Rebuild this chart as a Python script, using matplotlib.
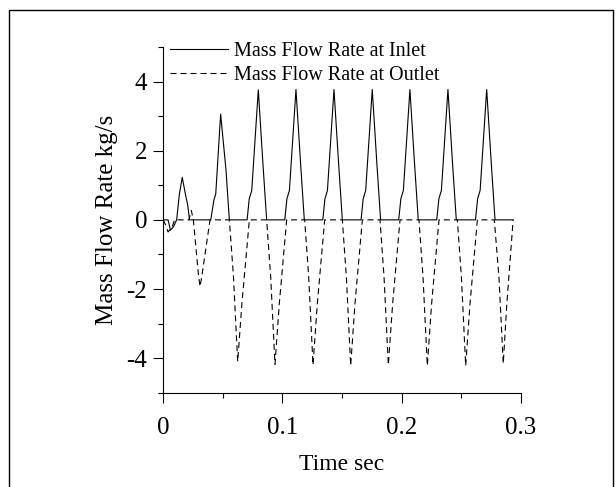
import matplotlib
matplotlib.use('Agg')
import matplotlib.pyplot as plt
from matplotlib.patches import Rectangle
from matplotlib.ticker import MultipleLocator

plt.rcParams['font.family'] = ['Liberation Serif', 'DejaVu Serif']
plt.rcParams['axes.unicode_minus'] = False

# Mass flow rate at inlet
t_inlet = [0.0, 0.004, 0.006, 0.0085, 0.0112, 0.0135, 0.0159, 0.0185, 0.0205, 0.0220,
           0.0398, 0.0425, 0.0440, 0.0481, 0.0526, 0.0554,
           0.0703, 0.0721, 0.0742, 0.0797, 0.0834, 0.0867,
           0.1019, 0.1037, 0.1058, 0.1113, 0.1150, 0.1183,
           0.1338, 0.1356, 0.1377, 0.1432, 0.1469, 0.1502,
           0.1659, 0.1677, 0.1698, 0.1753, 0.1790, 0.1823,
           0.1975, 0.1993, 0.2014, 0.2069, 0.2106, 0.2139,
           0.2294, 0.2312, 0.2333, 0.2388, 0.2425, 0.2458,
           0.2619, 0.2637, 0.2658, 0.2713, 0.2750, 0.2783,
           0.2935]
m_inlet = [0.0, 0.0, -0.3, -0.2, 0.0, 0.75, 1.23, 0.75, 0.42, 0.0,
           0.0, 0.58, 0.75, 3.06, 1.44, 0.0,
           0.0, 0.61, 0.85, 3.76, 1.72, 0.0,
           0.0, 0.61, 0.85, 3.77, 1.72, 0.0,
           0.0, 0.61, 0.85, 3.77, 1.72, 0.0,
           0.0, 0.61, 0.85, 3.77, 1.72, 0.0,
           0.0, 0.61, 0.85, 3.77, 1.72, 0.0,
           0.0, 0.61, 0.85, 3.77, 1.72, 0.0,
           0.0, 0.61, 0.85, 3.77, 1.72, 0.0,
           0.0]

# Mass flow rate at outlet
t_outlet = [0.0, 0.002, 0.004, 0.0075, 0.0095,
            0.0215, 0.0235, 0.0252, 0.0294, 0.0308, 0.0322, 0.0392,
            0.0554, 0.0588, 0.0624, 0.0660, 0.0722,
            0.0867, 0.0901, 0.0937, 0.0973, 0.1035,
            0.1186, 0.1220, 0.1256, 0.1292, 0.1354,
            0.1502, 0.1536, 0.1572, 0.1608, 0.1670,
            0.1818, 0.1852, 0.1888, 0.1924, 0.1986,
            0.2145, 0.2179, 0.2215, 0.2251, 0.2313,
            0.2467, 0.2501, 0.2537, 0.2573, 0.2635,
            0.2777, 0.2816, 0.2852, 0.2882, 0.2935]
m_outlet = [0.0, -0.15, -0.35, -0.2, 0.0,
            0.0, 0.27, 0.0, -1.56, -1.93, -1.66, 0.0,
            0.0, -1.6, -4.1, -2.4, 0.0,
            0.0, -1.66, -4.18, -2.43, 0.0,
            0.0, -1.66, -4.2, -2.43, 0.0,
            0.0, -1.66, -4.22, -2.43, 0.0,
            0.0, -1.66, -4.2, -2.43, 0.0,
            0.0, -1.66, -4.22, -2.43, 0.0,
            0.0, -1.66, -4.22, -2.43, 0.0,
            0.0, -1.66, -4.16, -2.43, 0.0]

fig = plt.figure(figsize=(6.16, 4.87), dpi=100)
fig.patches.append(Rectangle((9 / 616, -0.05), 604 / 616, 1 - 10 / 487 + 0.05,
                             transform=fig.transFigure, fill=False,
                             edgecolor='black', linewidth=1.0))
ax = fig.add_axes([0.2651, 0.1936, 0.5805, 0.7099])

ax.plot(t_inlet, m_inlet, color='black', linewidth=0.8, label='Mass Flow Rate at Inlet')
ax.plot(t_outlet, m_outlet, color='black', linewidth=0.8, linestyle=(0, (5.4, 3.6)),
        label='Mass Flow Rate at Outlet')

ax.set_xlim(0, 0.3)
ax.set_ylim(-5, 5)
ax.xaxis.set_major_locator(MultipleLocator(0.1))
ax.xaxis.set_minor_locator(MultipleLocator(0.05))
ax.yaxis.set_major_locator(MultipleLocator(2))
ax.yaxis.set_minor_locator(MultipleLocator(1))
ax.set_xticks([0, 0.1, 0.2, 0.3], ['0', '0.1', '0.2', '0.3'])

for s in ['top', 'right']:
    ax.spines[s].set_visible(False)
for s in ['left', 'bottom']:
    ax.spines[s].set_linewidth(0.8)
ax.tick_params(which='major', direction='out', length=7.5, width=0.8, labelsize=18, pad=4)
ax.tick_params(which='minor', direction='out', length=3.8, width=0.8)
ax.tick_params(axis='x', which='major', pad=10.3)

ax.set_xlabel('Time sec', fontsize=17, labelpad=10.5)
ax.set_ylabel('Mass Flow Rate kg/s', fontsize=18, labelpad=6)

ax.legend(loc='upper left', bbox_to_anchor=(170 / 616, 1 - 42 / 487),
          bbox_transform=fig.transFigure, frameon=False, fontsize=14.5,
          handlelength=2.9, handletextpad=0.3, labelspacing=0.25,
          borderpad=0, borderaxespad=0)

fig.savefig('out.png', dpi=100)
